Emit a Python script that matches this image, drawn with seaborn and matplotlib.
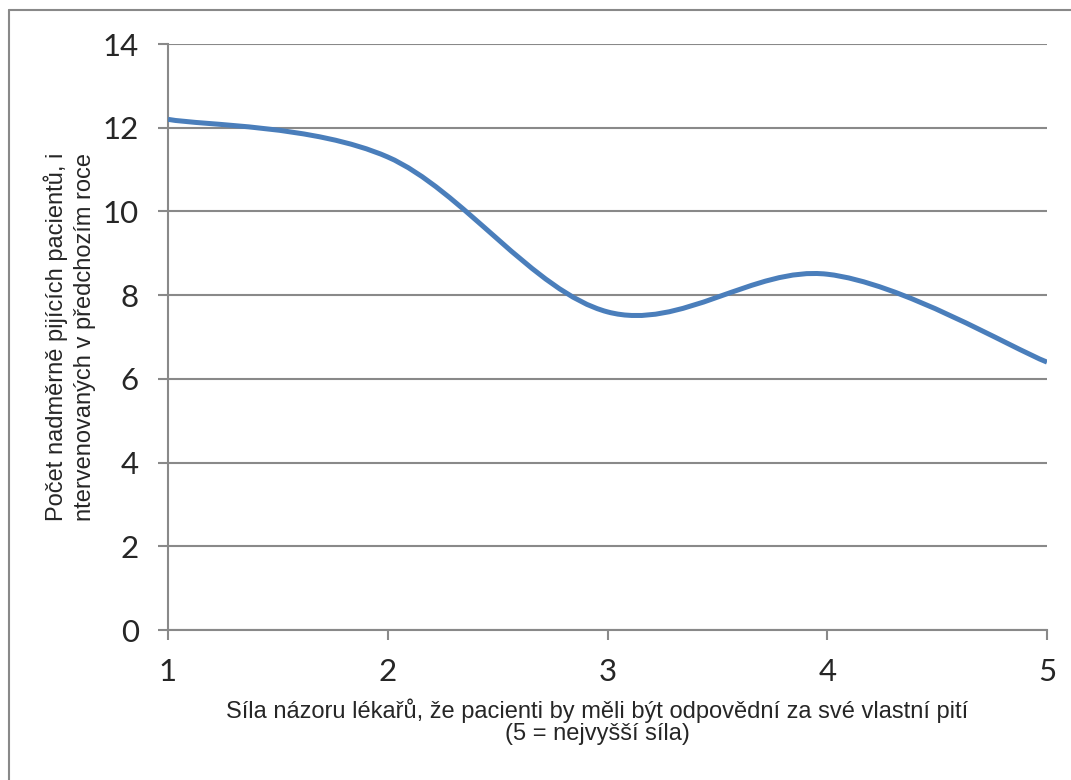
import numpy as np
import matplotlib
matplotlib.use('Agg')
import matplotlib.pyplot as plt
from matplotlib.path import Path
from matplotlib.patches import PathPatch
from matplotlib.lines import Line2D
import seaborn as sns

# data
sila = [1, 2, 3, 4, 5]
pocet = [12.2, 11.3, 7.6, 8.5, 6.4]
y_ticks = [0, 2, 4, 6, 8, 10, 12, 14]

x_label = 'Síla názoru lékařů, že pacienti by měli být odpovědní za své vlastní pití\n(5 = nejvyšší síla)'
y_label = 'Počet nadměrně pijících pacientů, i\nntervenovaných v předchozím roce'

line_col = '#4A7EBB'
grid_col = '#898989'

sns.set_style('white')
plt.rcParams['font.family'] = ['Liberation Sans', 'DejaVu Sans']

fig = plt.figure(figsize=(10.71, 7.80), dpi=100)
ax = fig.add_axes([168/1071, 1 - 630/780, (1047-168)/1071, (630-44)/780])


def smooth_path(xs, ys):
    # Excel-style smoothed line: cubic bezier segments, control points from neighbours
    pts = np.column_stack([xs, ys]).astype(float)
    n = len(pts)
    verts = [tuple(pts[0])]
    codes = [Path.MOVETO]
    for i in range(n - 1):
        p0 = pts[i - 1] if i > 0 else pts[i]
        p1 = pts[i]
        p2 = pts[i + 1]
        p3 = pts[i + 2] if i + 2 < n else pts[i + 1]
        c1 = p1 + (p2 - p0) / 6
        c2 = p2 - (p3 - p1) / 6
        verts += [tuple(c1), tuple(c2), tuple(p2)]
        codes += [Path.CURVE4] * 3
    return Path(verts, codes)


ax.add_patch(PathPatch(smooth_path(sila, pocet), facecolor='none', edgecolor=line_col,
                       linewidth=3.6, capstyle='butt', zorder=3))

ax.set_xlim(1, 5)
ax.set_ylim(0, 14)
ax.set_xticks(sila)
ax.set_yticks(y_ticks)
ax.yaxis.grid(True, color=grid_col, linewidth=1.5)
ax.xaxis.grid(False)
ax.set_axisbelow(True)

sns.despine(ax=ax, top=True, right=True)
for s in ['left', 'bottom']:
    ax.spines[s].set_color(grid_col)
    ax.spines[s].set_linewidth(1.5)

ax.tick_params(axis='both', which='major', direction='out', length=7, width=1.5,
               color=grid_col, labelsize=22.5, bottom=True, left=True)
ax.tick_params(axis='y', pad=14)
ax.tick_params(axis='x', pad=13)
for t in ax.get_xticklabels() + ax.get_yticklabels():
    t.set_family(['Lato', 'DejaVu Sans'])

ax.set_xlabel(x_label, fontsize=17, linespacing=1.0)
ax.xaxis.set_label_coords(0.488, -0.156)
ax.xaxis.label.set_va('center')
ax.set_ylabel(y_label, fontsize=17, labelpad=5, linespacing=1.3)

# outer chart border (top and left edges visible)
fig.add_artist(Line2D([9/1071, 9/1071], [0, 1 - 10/780], color=grid_col, linewidth=1.5))
fig.add_artist(Line2D([9/1071, 1], [1 - 10/780, 1 - 10/780], color=grid_col, linewidth=1.5))

fig.savefig('out.png', dpi=100)
